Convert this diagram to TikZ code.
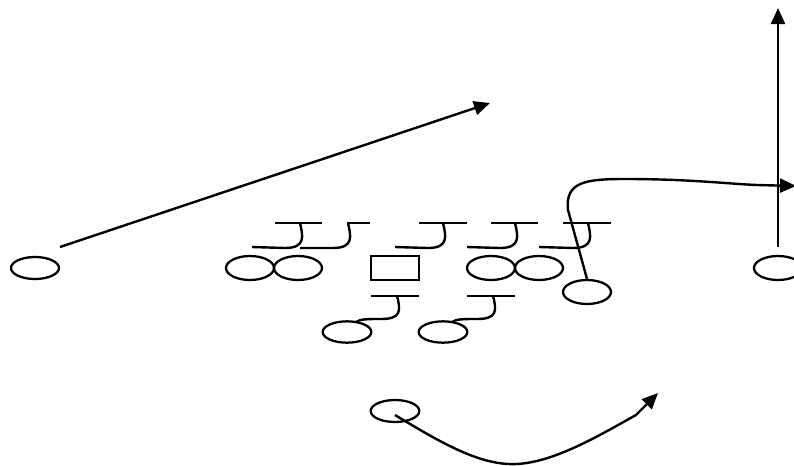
\documentclass[tikz,border=0pt]{standalone}
\usetikzlibrary{shapes.geometric,arrows.meta}
\begin{document}
\begin{tikzpicture}[x=0.75pt,y=-0.75pt,line width=1.8pt,
  player/.style={draw,ellipse,minimum width=36pt,minimum height=18pt,inner sep=0pt,line width=1.7pt},
  ctr/.style={draw,rectangle,minimum width=36pt,minimum height=18pt,inner sep=0pt,line width=1.7pt},
  route/.style={-{Triangle[length=12pt,width=10.5pt]},line width=1.8pt},
  blk/.style={line width=1.8pt}]
\useasboundingbox (0,0) rectangle (794,465);
% players
\node[player,minimum height=16.5pt] (lt) at (35,268) {};
\node[player] (g1) at (250,268) {};
\node[player] (g2) at (298,268) {};
\node[ctr] (c) at (395,268) {};
\node[player] (g3) at (491,268) {};
\node[player] (g4) at (539,268) {};
\node[player] (te) at (587,292) {};
\node[player,minimum width=36.5pt,minimum height=16pt] (rb) at (347,332) {};
\node[player,minimum width=36.5pt,minimum height=16pt] (fb) at (443,332) {};
\node[player,minimum width=36.5pt,minimum height=16.5pt] (qb) at (395,411) {};
\node[player] (wr) at (778,268) {};
% route end points
\coordinate (s1) at (60,247);
\coordinate (t1) at (490,103);
\coordinate (s2) at (778,247);
\coordinate (t2) at (778,8);
\coordinate (t3) at (796,186);
\coordinate (s4) at (395,415);
\coordinate (t4) at (658,393);
% routes
\draw[route] (s1) -- (t1);
\draw[route] (s2) -- (t2);
\draw[route] (te.north) -- (568,210) .. controls (565,182) and (585,179) .. (625,179)
  .. controls (690,179) and (730,184) .. (757,185) -- (t3);
\draw[route] (s4) .. controls (440,442) and (480,466) .. (517,464)
  .. controls (555,462) and (600,435) .. (636,415) -- (t4);
% blocking marks, top row
\draw[blk] (275,223) -- (322,223);
\draw[blk] (300,223) .. controls (303,236) and (306,248) .. (285,248) -- (252,247);
\draw[blk] (347,223) -- (370,223);
\draw[blk] (348,223) .. controls (351,236) and (354,248) .. (333,248) -- (300,248);
\draw[blk] (419,223) -- (467,223);
\draw[blk] (443,223) .. controls (446,236) and (449,248) .. (428,248) -- (395,247);
\draw[blk] (491,223) -- (538,223);
\draw[blk] (515,223) .. controls (518,236) and (521,248) .. (500,248) -- (467,247);
\draw[blk] (563,223) -- (611,223);
\draw[blk] (588,223) .. controls (591,236) and (594,248) .. (573,248) -- (539,247);
% blocking marks, backs
\draw[blk] (371,296) -- (419,296);
\draw[blk] (397,296) .. controls (401,311) and (401,319) .. (381,319)
  .. controls (368,319) and (360,319) .. (356,322);
\draw[blk] (467,296) -- (515,296);
\draw[blk] (493,296) .. controls (497,311) and (497,319) .. (477,319)
  .. controls (464,319) and (456,319) .. (452,322);
\end{tikzpicture}
\end{document}
